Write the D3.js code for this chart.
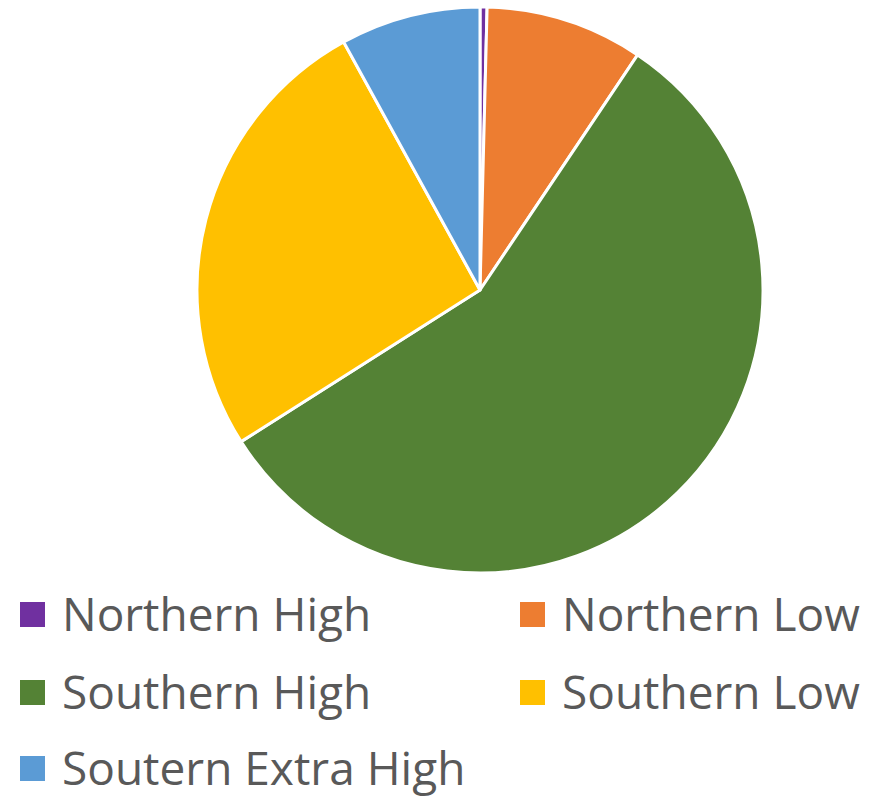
<html lang="en">
  <head>
    <meta charset="utf-8">
    <title>Pie</title>
    <script src="https://d3js.org/d3.v7.min.js"></script>
    <style>
      body { margin: 0; background: #fff; }
    </style>
  </head>
  <body>
    <script type="text/javascript">
      var w = 872;
      var h = 799;
      var categories = ["Northern High", "Northern Low", "Southern High", "Southern Low", "Soutern Extra High"];
      var values = [0.4, 9.0, 56.6, 26.0, 8.0];
      var colors = ["#7030A0", "#ED7D31", "#548235", "#FFC000", "#5B9BD5"];

      var cx = 480, cy = 290, r = 283;

      var svg = d3.select("body")
                  .append("svg")
                  .attr("width", w)
                  .attr("height", h);

      var pie = d3.pie().sort(null).value(function (d) { return d; });
      var arc = d3.arc().innerRadius(0).outerRadius(r);

      svg.append("g")
         .attr("transform", `translate(${cx}, ${cy})`)
         .selectAll("path")
         .data(pie(values))
         .enter()
         .append("path")
         .attr("d", arc)
         .attr("fill", function (d, i) { return colors[i]; })
         .attr("stroke", "#fff")
         .attr("stroke-width", 3)
         .attr("stroke-linejoin", "round");

      // legend, two columns
      var colX = [20, 520];
      var rowY = [631, 709, 785];
      var legend = svg.append("g");
      categories.forEach(function (c, i) {
        var x = colX[i % 2], y = rowY[Math.floor(i / 2)];
        legend.append("rect")
              .attr("x", x)
              .attr("y", y - 29)
              .attr("width", 25)
              .attr("height", 25)
              .attr("fill", colors[i]);
        legend.append("text")
              .attr("x", x + 42)
              .attr("y", y)
              .attr("font-family", "Open Sans, sans-serif")
              .attr("font-size", 46)
              .attr("fill", "#595959")
              .text(c);
      });
    </script>
  </body>
</html>
